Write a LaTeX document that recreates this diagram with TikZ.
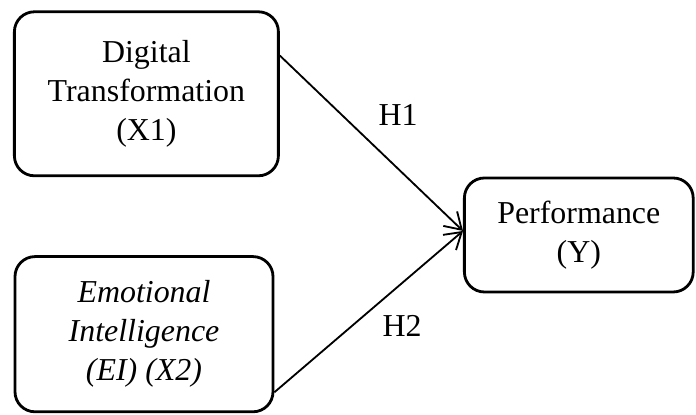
\documentclass[tikz,border=0pt]{standalone}
\usepackage{fontspec}
\setmainfont{Liberation Serif}
\usetikzlibrary{arrows.meta}

\begin{document}
\begin{tikzpicture}[
	var/.style={draw, line width=2pt, rounded corners=0.5cm, align=center, inner sep=0pt,
		font=\fontsize{22.7pt}{27.7pt}\selectfont},
	path/.style={line width=1.3pt, -{Straight Barb[length=4mm, width=5mm, line width=1.3pt]}},
	hyp/.style={font=\fontsize{22.7pt}{27.7pt}\selectfont}
]
	\useasboundingbox (0, 0) rectangle (17.4, 10.375);

	% variables
	\node[var, minimum width=6.6cm, minimum height=4.1cm] (X1) at (3.66, 8.03) {Digital\\Transformation\\(X1)};
	\node[var, minimum width=6.45cm, minimum height=3.88cm, font=\fontsize{22.7pt}{27.7pt}\selectfont\itshape] (X2) at (3.6, 2.02) {Emotional\\Intelligence\\(EI) (X2)};
	\node[var, minimum width=5.72cm, minimum height=2.85cm] (Y) at (14.47, 4.5) {Performance\\(Y)};

	% hypotheses
	\draw[path] (X1.16) -- (Y.178);
	\draw[path] (X2.-24) -- (Y.178);
	\node[hyp] (H1) at (9.95, 7.51) {H1};
	\node[hyp] (H2) at (10.05, 2.22) {H2};
\end{tikzpicture}
\end{document}
